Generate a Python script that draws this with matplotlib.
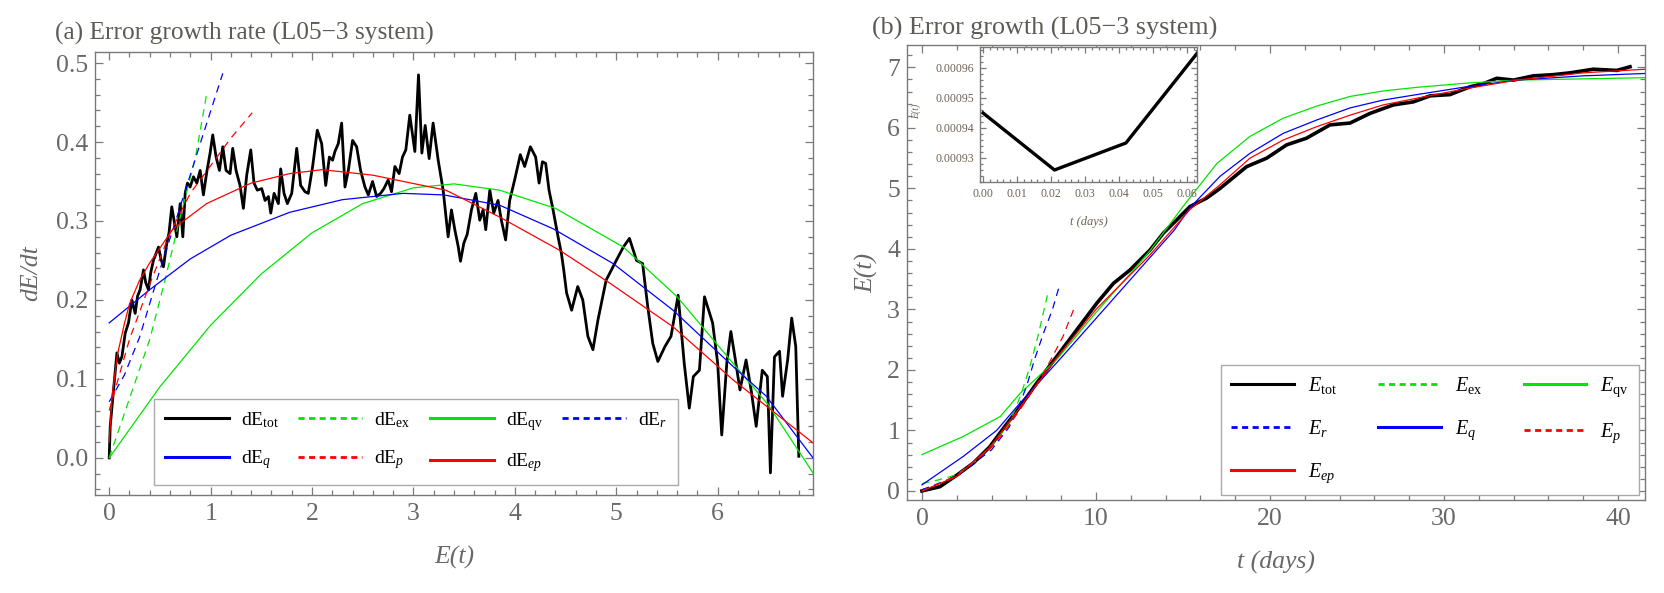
import matplotlib
matplotlib.use('Agg')
import matplotlib.pyplot as plt
from matplotlib.ticker import MultipleLocator, FormatStrFormatter
from matplotlib.lines import Line2D

plt.rcParams['font.family'] = ['Liberation Serif', 'DejaVu Serif']
plt.rcParams['mathtext.fontset'] = 'custom'
plt.rcParams['mathtext.rm'] = 'Liberation Serif'
plt.rcParams['mathtext.it'] = 'Liberation Serif:italic'
plt.rcParams['mathtext.bf'] = 'Liberation Serif:bold'

# ---------------- Panel (a): dE/dt versus E ----------------
a_tot_E = [0.0, 0.01, 0.04, 0.076, 0.10, 0.125, 0.158, 0.19, 0.224, 0.256, 0.28, 0.305,
           0.338, 0.36, 0.387, 0.41, 0.436, 0.486, 0.51, 0.535, 0.568, 0.59, 0.617, 0.667,
           0.70, 0.726, 0.749, 0.772, 0.798, 0.831, 0.864, 0.897, 0.929, 0.962, 0.995, 1.021,
           1.054, 1.087, 1.12, 1.152, 1.192, 1.218, 1.251, 1.29, 1.323, 1.356, 1.396, 1.428,
           1.461, 1.504, 1.537, 1.57, 1.593, 1.626, 1.668, 1.691, 1.724, 1.757, 1.8, 1.849,
           1.888, 1.931, 1.963, 2.006, 2.052, 2.095, 2.135, 2.171, 2.203, 2.226, 2.259, 2.292,
           2.325, 2.358, 2.4, 2.44, 2.479, 2.522, 2.555, 2.597, 2.637, 2.676, 2.709, 2.751,
           2.784, 2.817, 2.859, 2.892, 2.925, 2.964, 3.014, 3.05, 3.083, 3.116, 3.155, 3.194,
           3.244, 3.293, 3.342, 3.375, 3.408, 3.441, 3.464, 3.497, 3.53, 3.572, 3.615, 3.654,
           3.687, 3.713, 3.753, 3.792, 3.834, 3.867, 3.909, 3.949, 3.998, 4.054, 4.097, 4.153,
           4.205, 4.239, 4.272, 4.304, 4.337, 4.377, 4.426, 4.459, 4.482,
           4.51, 4.56, 4.62, 4.67, 4.72, 4.77, 4.82, 4.9, 5.0, 5.07, 5.13, 5.2, 5.26, 5.31,
           5.36, 5.41, 5.48, 5.54, 5.61, 5.67, 5.72, 5.76, 5.82, 5.87, 5.95, 6.0, 6.04, 6.09,
           6.13, 6.17, 6.22, 6.28, 6.33, 6.38, 6.44, 6.49, 6.52, 6.56, 6.61, 6.64, 6.69, 6.73,
           6.77, 6.8]
a_tot_v = [0.0, 0.04, 0.082, 0.133, 0.12, 0.128, 0.158, 0.171, 0.2, 0.183, 0.205, 0.213,
           0.238, 0.222, 0.213, 0.235, 0.25, 0.267, 0.252, 0.242, 0.272, 0.285, 0.318, 0.28,
           0.322, 0.28, 0.335, 0.348, 0.343, 0.356, 0.348, 0.364, 0.333, 0.362, 0.386, 0.409,
           0.381, 0.364, 0.394, 0.364, 0.36, 0.392, 0.364, 0.345, 0.316, 0.358, 0.39, 0.348,
           0.339, 0.341, 0.326, 0.331, 0.31, 0.335, 0.322, 0.366, 0.335, 0.322, 0.335, 0.392,
           0.345, 0.337, 0.335, 0.369, 0.415, 0.398, 0.345, 0.381, 0.377, 0.388, 0.398, 0.424,
           0.343, 0.364, 0.402, 0.394, 0.364, 0.343, 0.333, 0.35, 0.331, 0.335, 0.341, 0.352,
           0.337, 0.369, 0.36, 0.381, 0.39, 0.434, 0.388, 0.485, 0.386, 0.421, 0.379, 0.424,
           0.377, 0.339, 0.28, 0.314, 0.289, 0.268, 0.249, 0.272, 0.283, 0.314, 0.335, 0.301,
           0.314, 0.289, 0.339, 0.31, 0.326, 0.301, 0.276, 0.326, 0.352, 0.384, 0.369, 0.394,
           0.381, 0.348, 0.375, 0.373, 0.339, 0.314, 0.28, 0.259, 0.238,
           0.209, 0.187, 0.217, 0.2, 0.154, 0.137, 0.175, 0.225, 0.25, 0.267, 0.278, 0.25,
           0.246, 0.192, 0.145, 0.122, 0.141, 0.154, 0.206, 0.12, 0.063, 0.103, 0.111, 0.204,
           0.171, 0.12, 0.029, 0.12, 0.16, 0.128, 0.086, 0.124, 0.086, 0.04, 0.111, 0.103,
           -0.019, 0.128, 0.135, 0.078, 0.124, 0.177, 0.141, 0.002]

a_ex_E = [0.0, 0.2, 0.4, 0.55, 0.7, 0.85, 0.96]
a_ex_v = [0.0, 0.075, 0.15, 0.225, 0.305, 0.38, 0.46]

a_qv_E = [0.0, 0.5, 1.0, 1.5, 2.0, 2.5, 3.0, 3.4, 3.85, 4.4, 5.07, 5.6, 6.15, 6.5, 6.94]
a_qv_v = [0.0, 0.09, 0.168, 0.233, 0.285, 0.322, 0.342, 0.347, 0.339, 0.316, 0.267, 0.204,
          0.12, 0.067, -0.019]

a_r_E = [0.0, 0.15, 0.3, 0.5, 0.7, 0.9, 1.12]
a_r_v = [0.071, 0.105, 0.153, 0.238, 0.318, 0.399, 0.487]

a_q_E = [0.0, 0.4, 0.8, 1.2, 1.78, 2.3, 2.9, 3.3, 3.85, 4.38, 4.97, 5.56, 6.15, 6.48, 6.94]
a_q_v = [0.171, 0.213, 0.252, 0.282, 0.311, 0.327, 0.335, 0.333, 0.32, 0.29, 0.246, 0.187,
         0.116, 0.078, 0.0]

a_p_E = [0.0, 0.2, 0.4, 0.6, 0.8, 1.0, 1.2, 1.41]
a_p_v = [0.06, 0.15, 0.22, 0.285, 0.335, 0.37, 0.405, 0.437]

a_ep_E = [0.0, 0.03, 0.08, 0.15, 0.2, 0.3, 0.4, 0.63, 0.96, 1.4, 1.78, 2.1, 2.6, 3.32,
          3.85, 4.44, 4.94, 5.56, 6.15, 6.94]
a_ep_v = [0.02, 0.08, 0.13, 0.17, 0.195, 0.225, 0.247, 0.29, 0.322, 0.348, 0.36, 0.365,
          0.358, 0.339, 0.305, 0.263, 0.221, 0.166, 0.099, 0.019]

# ---------------- Panel (b): E versus t ----------------
b_tot_t = [0, 1.03, 2.0, 2.95, 3.9, 4.67, 5.63, 6.59, 7.74, 8.89, 10.04, 11.0, 11.95, 13.1,
           13.87, 14.54, 15.4, 16.36, 17.13, 18.66, 19.81, 20.96, 22.1, 23.45, 24.6, 25.75,
           27.09, 28.24, 29.2, 30.34, 31.5, 32.26, 33.03, 33.99, 35.13, 36.28, 37.24, 38.58,
           39.93, 40.69]
b_tot_E = [0.0, 0.07, 0.26, 0.46, 0.73, 1.03, 1.39, 1.78, 2.22, 2.66, 3.1, 3.43, 3.65, 3.98,
           4.26, 4.45, 4.7, 4.84, 5.0, 5.36, 5.5, 5.72, 5.83, 6.05, 6.08, 6.24, 6.38, 6.43,
           6.53, 6.55, 6.68, 6.73, 6.82, 6.79, 6.86, 6.88, 6.91, 6.97, 6.95, 7.01]

b_ex_t = [0, 1.2, 2.0, 3.0, 4.0, 5.0, 5.7, 6.2, 6.7, 7.26]
b_ex_E = [0.12, 0.2, 0.27, 0.47, 0.75, 1.1, 1.6, 2.05, 2.6, 3.3]

b_qv_t = [0, 2.37, 4.5, 5.63, 7.74, 10.0, 12.0, 13.1, 15.0, 16.94, 18.85, 20.76, 22.68,
          24.6, 26.5, 28.43, 31.3, 34.2, 41.6]
b_qv_E = [0.6, 0.9, 1.23, 1.61, 2.17, 2.95, 3.6, 3.97, 4.7, 5.41, 5.86, 6.16, 6.36, 6.52,
          6.61, 6.67, 6.74, 6.79, 6.83]

b_r_t = [0, 2.0, 4.0, 5.0, 5.5, 6.0, 6.5, 7.0, 7.5, 7.93]
b_r_E = [0.02, 0.24, 0.68, 1.05, 1.35, 1.72, 2.2, 2.62, 3.0, 3.42]

b_q_t = [0, 2.37, 4.29, 5.63, 8.0, 10.0, 12.0, 14.5, 15.4, 17.13, 18.85, 20.76, 22.68, 24.6,
         26.5, 28.43, 31.3, 34.2, 38.0, 41.6]
b_q_E = [0.1, 0.57, 1.0, 1.45, 2.2, 2.85, 3.5, 4.31, 4.68, 5.2, 5.58, 5.91, 6.13, 6.33,
         6.46, 6.55, 6.68, 6.79, 6.86, 6.9]

b_p_t = [0, 2.0, 4.0, 5.0, 6.0, 6.5, 7.0, 7.5, 8.1, 8.8]
b_p_E = [0.0, 0.25, 0.72, 1.08, 1.5, 1.72, 1.95, 2.22, 2.55, 3.06]

b_ep_t = [0, 2.0, 3.9, 5.63, 7.74, 10.0, 13.1, 15.4, 17.13, 18.85, 20.76, 22.68, 24.6,
          26.5, 28.43, 31.3, 34.2, 38.0, 41.6]
b_ep_E = [0.0, 0.24, 0.72, 1.38, 2.2, 3.0, 3.9, 4.65, 5.06, 5.5, 5.8, 6.02, 6.21, 6.38,
          6.49, 6.65, 6.79, 6.91, 6.97]

# ---------------- Inset ----------------
in_t = [0.0, 0.021, 0.042, 0.063]
in_E = [0.000945, 0.000926, 0.000935, 0.000965]

GREEN = '#00e600'
BLUE = '#0000ff'
RED = '#ff0000'
SPINE = '#7a7a7a'
TICKC = '#686868'
TITLEC = '#5e5a56'

W, H = 1664, 593
fig = plt.figure(figsize=(W / 100, H / 100), dpi=100)


def px_axes(x0, y0, x1, y1):
    return fig.add_axes([x0 / W, 1 - y1 / H, (x1 - x0) / W, (y1 - y0) / H])


def style(ax, xmaj, xmin, ymaj, ymin, lab=18.5, big=6, small=3.5, xpad=6, ypad=5, lc=TICKC):
    for s in ax.spines.values():
        s.set_color(SPINE)
        s.set_linewidth(1.0)
    ax.xaxis.set_major_locator(MultipleLocator(xmaj))
    ax.xaxis.set_minor_locator(MultipleLocator(xmin))
    ax.yaxis.set_major_locator(MultipleLocator(ymaj))
    ax.yaxis.set_minor_locator(MultipleLocator(ymin))
    ax.tick_params(which='both', direction='in', top=True, right=True, color=SPINE,
                   labelcolor=lc, labelsize=lab, width=0.9)
    ax.tick_params(which='major', length=big)
    ax.tick_params(which='minor', length=small)
    ax.tick_params(axis='x', pad=xpad)
    ax.tick_params(axis='y', pad=ypad)


DASH = (6, 4.5)
thin = 0.9

# ---- panel (a)
axa = px_axes(95, 52, 813, 495)
axa.plot(a_tot_E, a_tot_v, color='black', lw=2.0, zorder=2)
axa.plot(a_ex_E, a_ex_v, color=GREEN, lw=thin, dashes=DASH, zorder=3)
axa.plot(a_qv_E, a_qv_v, color=GREEN, lw=thin, zorder=3)
axa.plot(a_r_E, a_r_v, color=BLUE, lw=thin, dashes=DASH, zorder=3)
axa.plot(a_q_E, a_q_v, color=BLUE, lw=thin, zorder=3)
axa.plot(a_p_E, a_p_v, color=RED, lw=thin, dashes=DASH, zorder=3)
axa.plot(a_ep_E, a_ep_v, color=RED, lw=thin, zorder=3)
axa.set_xlim(-0.14, 6.94)
axa.set_ylim(-0.047, 0.514)
style(axa, 1, 0.2, 0.1, 0.02)
axa.yaxis.set_major_formatter(FormatStrFormatter('%.1f'))
axa.set_ylabel('dE/dt', fontsize=18.5, fontstyle='italic', color=TICKC)
axa.yaxis.set_label_coords(-0.074, 0.5)
axa.set_xlabel('E(t)', fontsize=18.5, fontstyle='italic', color=TICKC)
axa.xaxis.set_label_coords(0.5, -0.115)

def h(color, dashed=False):
    if dashed:
        return Line2D([], [], color=color, lw=2.0, dashes=(2.2, 1.6))
    return Line2D([], [], color=color, lw=2.2)

la_handles = [h('black'), h(BLUE), h(GREEN, True), h(RED, True), h(GREEN), h(RED), h(BLUE, True)]
la_labels = ['dE$_{\\mathrm{tot}}$', 'dE$_{q}$', 'dE$_{\\mathrm{ex}}$', 'dE$_{p}$',
             'dE$_{\\mathrm{qv}}$', 'dE$_{ep}$', 'dE$_{r}$']
lega = axa.legend(la_handles, la_labels, ncol=4, loc='lower left',
                  bbox_to_anchor=((154 - 95) / 718, (495 - 485) / 443, (678 - 154) / 718,
                                  (485 - 397) / 443),
                  mode='expand', borderaxespad=0, fontsize=14, frameon=True, fancybox=False,
                  edgecolor='#aaaaaa', framealpha=1, handlelength=3.3, handletextpad=0.6,
                  labelspacing=0.95, borderpad=0.55, columnspacing=1.0)
lega.get_frame().set_linewidth(1.0)

# ---- panel (b)
axb = px_axes(907, 45, 1645, 500)
axb.plot(b_tot_t, b_tot_E, color='black', lw=2.6, zorder=2)
axb.plot(b_ex_t, b_ex_E, color=GREEN, lw=thin, dashes=DASH, zorder=3)
axb.plot(b_qv_t, b_qv_E, color=GREEN, lw=thin, zorder=3)
axb.plot(b_r_t, b_r_E, color=BLUE, lw=thin, dashes=DASH, zorder=3)
axb.plot(b_q_t, b_q_E, color=BLUE, lw=thin, zorder=3)
axb.plot(b_p_t, b_p_E, color=RED, lw=thin, dashes=DASH, zorder=3)
axb.plot(b_ep_t, b_ep_E, color=RED, lw=thin, zorder=3)
axb.set_xlim(-0.86, 41.55)
axb.set_ylim(-0.15, 7.37)
style(axb, 10, 2, 1, 0.2, ypad=5)
axb.set_ylabel('E(t)', fontsize=18.5, fontstyle='italic', color=TICKC)
axb.yaxis.set_label_coords(-0.039, 0.5)
axb.set_xlabel('t (days)', fontsize=18.5, fontstyle='italic', color=TICKC)
axb.xaxis.set_label_coords(0.5, -0.112)

lb_handles = [h('black'), h(BLUE, True), h(RED), h(GREEN, True), h(BLUE), h(GREEN), h(RED, True)]
lb_labels = ['$E_{\\mathrm{tot}}$', '$E_{r}$', '$E_{ep}$', '$E_{\\mathrm{ex}}$', '$E_{q}$',
             '$E_{\\mathrm{qv}}$', '$E_{p}$']
legb = axb.legend(lb_handles, lb_labels, ncol=3, loc='lower left',
                  bbox_to_anchor=((1221 - 907) / 738, (500 - 495) / 455, (1639 - 1221) / 738,
                                  (495 - 366) / 455),
                  mode='expand', borderaxespad=0, fontsize=14.5, frameon=True, fancybox=False,
                  edgecolor='#aaaaaa', framealpha=1, handlelength=3.1, handletextpad=0.7,
                  labelspacing=1.1, borderpad=0.5, columnspacing=1.0)
legb.get_frame().set_linewidth(1.0)

# ---- inset
axi = px_axes(980, 47, 1197, 182)
axi.set_zorder(5)
axi.plot(in_t, in_E, color='black', lw=2.4)
axi.set_xlim(-0.0009, 0.0629)
axi.set_ylim(0.000922, 0.000967)
style(axi, 0.01, 0.002, 0.00001, 0.000002, lab=8.5, big=4, small=2.2, xpad=4, ypad=4,
      lc='#6e6254')
axi.xaxis.set_major_formatter(FormatStrFormatter('%.2f'))
axi.yaxis.set_major_formatter(FormatStrFormatter('%.5f'))
axi.set_ylabel('E(t)', fontsize=7, fontstyle='italic', color='#6e6254')
axi.yaxis.set_label_coords(-0.27, 0.52)
axi.set_xlabel('t (days)', fontsize=9, fontstyle='italic', color='#6e6254')
axi.xaxis.set_label_coords(0.5, -0.25)

# ---- titles
fig.text(55 / W, 1 - 33 / H, '(a) Error growth rate (L05\u22123 system)', fontsize=18.3,
         color=TITLEC, va='center', ha='left')
fig.text(872 / W, 1 - 28 / H, '(b) Error growth (L05\u22123 system)', fontsize=18.8,
         color=TITLEC, va='center', ha='left')

fig.savefig('out.png', dpi=100)
